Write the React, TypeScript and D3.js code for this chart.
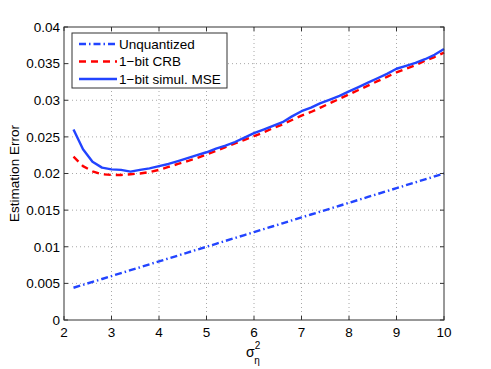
import * as d3 from 'd3';

// sigma_eta^2 values (x axis)
const sigmaSq = [2.2, 2.4, 2.6, 2.8, 3.0, 3.2, 3.4, 3.6, 3.8, 4.0, 4.2, 4.4, 4.6, 4.8, 5.0, 5.2, 5.4, 5.6, 5.8, 6.0,
  6.2, 6.4, 6.6, 6.8, 7.0, 7.2, 7.4, 7.6, 7.8, 8.0, 8.2, 8.4, 8.6, 8.8, 9.0, 9.2, 9.4, 9.6, 9.8, 10.0];

const unquantized = [0.0044, 0.0048, 0.0052, 0.0056, 0.0060, 0.0064, 0.0068, 0.0072, 0.0076, 0.0080, 0.0084, 0.0088,
  0.0092, 0.0096, 0.0100, 0.0104, 0.0108, 0.0112, 0.0116, 0.0120, 0.0124, 0.0128, 0.0132, 0.0136, 0.0140, 0.0144,
  0.0148, 0.0152, 0.0156, 0.0160, 0.0164, 0.0168, 0.0172, 0.0176, 0.0180, 0.0184, 0.0188, 0.0192, 0.0196, 0.0200];

const crb1bit = [0.0223, 0.0210, 0.0203, 0.0199, 0.0198, 0.0198, 0.0199, 0.0200, 0.0202, 0.0205, 0.0209, 0.0213,
  0.0217, 0.0221, 0.0226, 0.0231, 0.0236, 0.0241, 0.0246, 0.0251, 0.0256, 0.0262, 0.0267, 0.0273, 0.0279, 0.0284,
  0.0290, 0.0296, 0.0302, 0.0308, 0.0314, 0.0320, 0.0326, 0.0332, 0.0338, 0.0343, 0.0348, 0.0354, 0.0359, 0.0365];

const mse1bit = [0.0260, 0.0233, 0.0216, 0.0208, 0.02057, 0.0205, 0.02025, 0.0205, 0.0207, 0.0210, 0.0213, 0.0217,
  0.0221, 0.0225, 0.0229, 0.0234, 0.0238, 0.0243, 0.0249, 0.0255, 0.0260, 0.0265, 0.0270, 0.0278, 0.0285, 0.0290,
  0.0296, 0.0301, 0.0306, 0.0312, 0.0318, 0.0324, 0.0330, 0.0336, 0.0343, 0.0347, 0.0351, 0.0356, 0.0362, 0.0370];

const xTicks = [2, 3, 4, 5, 6, 7, 8, 9, 10];
const yTicks = [0, 0.005, 0.01, 0.015, 0.02, 0.025, 0.03, 0.035, 0.04];

const series = [
  { name: 'Unquantized', values: unquantized, color: '#2244ff', dash: '7,3,1.5,3' },
  { name: '1\u2212bit CRB', values: crb1bit, color: '#ff0000', dash: '7,5' },
  { name: '1\u2212bit simul. MSE', values: mse1bit, color: '#2244ff', dash: '' },
];

const W = 491;
const H = 369;
const margin = { top: 27, right: 47, bottom: 49, left: 64 };
const font = 'Liberation Sans, Arial, Helvetica, sans-serif';

export default function App() {
  const innerW = W - margin.left - margin.right;
  const innerH = H - margin.top - margin.bottom;

  const x = d3.scaleLinear().domain([2, 10]).range([0, innerW]);
  const y = d3.scaleLinear().domain([0, 0.04]).range([innerH, 0]);

  const line = d3.line<number>()
    .x((_, i) => x(sigmaSq[i]))
    .y(d => y(d));

  const tick = 4;

  return (
    <div style={{ position: 'fixed', left: 0, top: 0 }}>
      <svg width={W} height={H} style={{ display: 'block', background: '#fff' }} fontFamily={font}>
        <g transform={`translate(${margin.left},${margin.top})`}>
          {/* grid */}
          {xTicks.slice(1, -1).map(t => (
            <line key={'gx' + t} x1={x(t)} x2={x(t)} y1={0} y2={innerH}
              stroke="#a8a8a8" strokeWidth={1} strokeDasharray="1,3" />
          ))}
          {yTicks.slice(1, -1).map(t => (
            <line key={'gy' + t} x1={0} x2={innerW} y1={y(t)} y2={y(t)}
              stroke="#a8a8a8" strokeWidth={1} strokeDasharray="1,3" />
          ))}

          {/* data lines */}
          {series.map(s => (
            <path key={s.name} d={line(s.values) || ''} fill="none" stroke={s.color}
              strokeWidth={2.4} strokeDasharray={s.dash || undefined} strokeLinejoin="round" />
          ))}

          {/* ticks (inside, all four sides) */}
          {xTicks.map(t => (
            <g key={'tx' + t}>
              <line x1={x(t)} x2={x(t)} y1={innerH} y2={innerH - tick} stroke="#333" />
              <line x1={x(t)} x2={x(t)} y1={0} y2={tick} stroke="#333" />
              <text x={x(t)} y={innerH + 17} textAnchor="middle" fontSize={13.5} fill="#000">{t}</text>
            </g>
          ))}
          {yTicks.map(t => (
            <g key={'ty' + t}>
              <line x1={0} x2={tick} y1={y(t)} y2={y(t)} stroke="#333" />
              <line x1={innerW} x2={innerW - tick} y1={y(t)} y2={y(t)} stroke="#333" />
              <text x={-4} y={y(t)} dy="0.36em" textAnchor="end" fontSize={13.5} fill="#000">{t}</text>
            </g>
          ))}

          {/* box */}
          <rect x={0} y={0} width={innerW} height={innerH} fill="none" stroke="#333" strokeWidth={1} />

          {/* legend */}
          <g transform="translate(8,6)">
            <rect x={0} y={0} width={155} height={55} fill="#fff" stroke="#333" strokeWidth={1} />
            {series.map((s, i) => (
              <g key={'lg' + s.name} transform={`translate(0,${11 + i * 17.5})`}>
                <line x1={7} x2={45} y1={0} y2={0} stroke={s.color} strokeWidth={2.4}
                  strokeDasharray={s.dash || undefined} />
                <text x={47} y={0} dy="0.36em" fontSize={13.5} fill="#000">{s.name}</text>
              </g>
            ))}
          </g>
        </g>

        {/* axis labels */}
        <text transform={`translate(19,${margin.top + innerH / 2}) rotate(-90)`} textAnchor="middle"
          fontSize={13.5} fill="#000">Estimation Error</text>
        <text x={margin.left + innerW / 2 - 8} y={357} fontSize={14} fill="#000">
          σ
          <tspan dx={0} dy={-8} fontSize={10}>2</tspan>
          <tspan dx={-6} dy={15} fontSize={10}>η</tspan>
        </text>
      </svg>
    </div>
  );
}
